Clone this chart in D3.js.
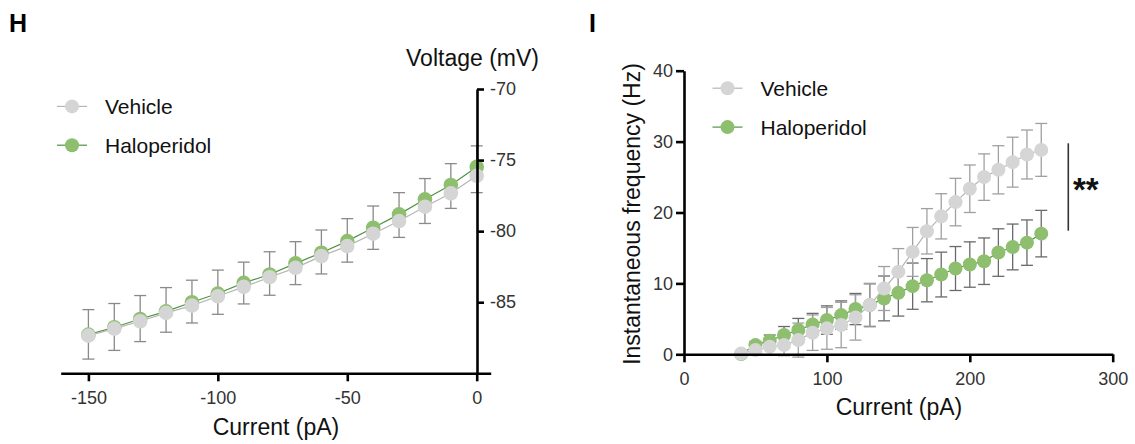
<!DOCTYPE html>
<html>
<head>
<meta charset="utf-8">
<script src="https://cdn.jsdelivr.net/npm/d3@7"></script>
<style>
  body { margin: 0; background: #fff; }
  text { font-family: "Liberation Sans", Arial, sans-serif; }
</style>
</head>
<body>
<script>
// panel H data: voltage vs injected (negative) current
const currentH = [-150, -140, -130, -120, -110, -100, -90, -80, -70, -60, -50, -40, -30, -20, -10, 0];
const vehicleH = [-87.35, -86.86, -86.34, -85.75, -85.24, -84.58, -83.92, -83.24, -82.58, -81.76, -81.05, -80.18, -79.29, -78.28, -77.34, -76.11];
const vehicleHsem = [1.65, 1.53, 1.43, 1.36, 1.22, 1.27, 1.2, 1.27, 1.18, 1.25, 1.13, 1.1, 1.15, 1.18, 1.06, 1.18];
const haloH = [-87.28, -86.76, -86.18, -85.64, -85.0, -84.39, -83.64, -83.05, -82.27, -81.52, -80.7, -79.76, -78.82, -77.76, -76.75, -75.48];
const haloHsem = [1.76, 1.67, 1.65, 1.67, 1.55, 1.65, 1.46, 1.6, 1.53, 1.6, 1.58, 1.53, 1.53, 1.46, 1.5, 1.48];
const xTicksH = [-150, -100, -50, 0];
const yTicksH = [-70, -75, -80, -85];

// panel I data: instantaneous frequency vs current
const currentI = [40, 50, 60, 70, 80, 90, 100, 110, 120, 130, 140, 150, 160, 170, 180, 190, 200, 210, 220, 230, 240, 250];
const vehicleI = [0.1, 0.6, 1.08, 1.3, 2.0, 3.05, 3.66, 4.13, 5.2, 6.94, 9.28, 11.63, 14.44, 17.35, 19.46, 21.47, 23.35, 24.99, 26.02, 27.1, 28.18, 28.83];
const vehicleIsem = [0.1, 0.5, 1.2, 1.5, 2.4, 2.5, 2.95, 3.2, 3.2, 3.07, 3.1, 3.28, 3.45, 3.2, 3.19, 3.35, 3.35, 3.28, 3.4, 3.52, 3.45, 3.73];
const haloI = [0.05, 1.3, 1.92, 2.72, 3.42, 4.22, 4.83, 5.53, 6.38, 6.94, 7.88, 8.67, 9.61, 10.45, 11.25, 12.1, 12.66, 13.13, 14.35, 15.14, 15.75, 17.02];
const haloIsem = [0.1, 0.5, 0.8, 1.2, 1.64, 1.55, 2.0, 2.0, 2.2, 3.0, 3.16, 3.28, 3.26, 3.05, 3.16, 3.1, 3.2, 3.28, 3.35, 3.23, 3.2, 3.28];
const xTicksI = [0, 100, 200, 300];
const yTicksI = [0, 10, 20, 30, 40];

const series = ["Vehicle", "Haloperidol"];
const fillCol = { Vehicle: "#d5d5d5", Haloperidol: "#8dbf6f" };
const lineCol = { Vehicle: "#b5b5b5", Haloperidol: "#4e9444" };

const svg = d3.select("body").append("svg")
  .attr("width", 1135)
  .attr("height", 444);

function styleAxis(g, fs) {
  g.select(".domain").attr("stroke", "#000").attr("stroke-width", 2.6);
  g.selectAll(".tick line").attr("stroke", "#000").attr("stroke-width", 2.6);
  g.selectAll(".tick text").attr("font-size", fs).attr("fill", "#333")
    .attr("font-family", "'Liberation Sans', Arial, sans-serif");
}

function errBars(g, xs, ys, sems, x, y, dir, col) {
  const cap = 6;
  xs.forEach((d, i) => {
    const cx = x(d);
    const top = dir === "down" ? y(ys[i]) : y(ys[i] + sems[i]);
    const bot = dir === "up" ? y(ys[i]) : y(ys[i] - sems[i]);
    g.append("line").attr("x1", cx).attr("x2", cx).attr("y1", top).attr("y2", bot)
      .attr("stroke", col).attr("stroke-width", 1.3);
    if (dir !== "down")
      g.append("line").attr("x1", cx - cap).attr("x2", cx + cap).attr("y1", top).attr("y2", top)
        .attr("stroke", col).attr("stroke-width", 1.3);
    if (dir !== "up")
      g.append("line").attr("x1", cx - cap).attr("x2", cx + cap).attr("y1", bot).attr("y2", bot)
        .attr("stroke", col).attr("stroke-width", 1.3);
  });
}

function drawSeries(g, xs, ys, x, y, name, r) {
  const line = d3.line().x(d => x(d[0])).y(d => y(d[1]));
  g.append("path").datum(xs.map((d, i) => [d, ys[i]]))
    .attr("d", line).attr("fill", "none")
    .attr("stroke", lineCol[name]).attr("stroke-width", 1.2);
  g.selectAll(null).data(xs.map((d, i) => [d, ys[i]])).enter()
    .append("circle")
      .attr("cx", d => x(d[0]))
      .attr("cy", d => y(d[1]))
      .attr("r", r)
      .attr("fill", fillCol[name]);
}

function legend(g, lx, ly, gap) {
  series.forEach((s, i) => {
    const yy = ly + i * gap;
    g.append("line").attr("x1", lx - 15).attr("x2", lx + 15).attr("y1", yy).attr("y2", yy)
      .attr("stroke", lineCol[s]).attr("stroke-width", 1.2);
    g.append("circle").attr("cx", lx).attr("cy", yy).attr("r", 7).attr("fill", fillCol[s]);
    g.append("text").attr("x", lx + 33).attr("y", yy).attr("dy", "0.36em")
      .attr("font-size", 21).attr("fill", "#111").text(s);
  });
}

// ---------- panel H ----------
const xH = d3.scaleLinear().domain([-160.7, 5.4]).range([60.7, 490.7]);
const yH = d3.scaleLinear().domain([-90, -70]).range([373.3, 89]);
const gH = svg.append("g");

gH.append("text").attr("x", 9).attr("y", 32).attr("font-size", 25)
  .attr("font-weight", "bold").text("H");

errBars(gH, currentH, haloH, haloHsem, xH, yH, "up", "#8a8a8a");
errBars(gH, currentH, vehicleH, vehicleHsem, xH, yH, "down", "#8a8a8a");
drawSeries(gH, currentH, haloH, xH, yH, "Haloperidol", 7.3);
drawSeries(gH, currentH, vehicleH, xH, yH, "Vehicle", 7.3);

gH.append("g").attr("transform", "translate(0,373.3)")
  .call(d3.axisBottom(xH).tickValues(xTicksH).tickSize(8).tickSizeOuter(0).tickPadding(10)
    .tickFormat(d => String(d)))
  .call(g => styleAxis(g, 18));
gH.append("g").attr("transform", "translate(477,0)")
  .call(d3.axisRight(yH).tickValues(yTicksH).tickSize(7).tickSizeOuter(0).tickPadding(6)
    .tickFormat(d => String(d)))
  .call(g => styleAxis(g, 18));

gH.append("text").attr("x", 539).attr("y", 66).attr("text-anchor", "end")
  .attr("font-size", 23).attr("fill", "#111").text("Voltage (mV)");
gH.append("text").attr("x", 276).attr("y", 427).attr("dy", "0.36em").attr("text-anchor", "middle")
  .attr("font-size", 23).attr("fill", "#111").text("Current (pA)");

legend(gH, 72, 106.4, 38.8);

// ---------- panel I ----------
const xI = d3.scaleLinear().domain([0, 300]).range([684, 1112.7]);
const yI = d3.scaleLinear().domain([0, 40]).range([354.3, 70.7]);
const gI = svg.append("g");

gI.append("text").attr("x", 589).attr("y", 32).attr("font-size", 25)
  .attr("font-weight", "bold").text("I");

errBars(gI, currentI, haloI, haloIsem, xI, yI, "both", "#6a6a6a");
errBars(gI, currentI, vehicleI, vehicleIsem, xI, yI, "both", "#a0a0a0");
drawSeries(gI, currentI, haloI, xI, yI, "Haloperidol", 7);
drawSeries(gI, currentI, vehicleI, xI, yI, "Vehicle", 7);

gI.append("g").attr("transform", "translate(0,354.3)")
  .call(d3.axisBottom(xI).tickValues(xTicksI).tickSize(8).tickSizeOuter(0).tickPadding(10))
  .call(g => styleAxis(g, 18));
gI.append("g").attr("transform", "translate(684,0)")
  .call(d3.axisLeft(yI).tickValues(yTicksI).tickSize(8).tickSizeOuter(0).tickPadding(3))
  .call(g => styleAxis(g, 18));

gI.append("text")
  .attr("transform", "translate(632,214) rotate(-90)")
  .attr("dy", "0.36em").attr("text-anchor", "middle")
  .attr("font-size", 23).attr("fill", "#111").text("Instantaneous frequency (Hz)");
gI.append("text").attr("x", 899).attr("y", 407).attr("dy", "0.36em").attr("text-anchor", "middle")
  .attr("font-size", 23).attr("fill", "#111").text("Current (pA)");

legend(gI, 727.5, 88.2, 38.9);

// significance bar
gI.append("line").attr("x1", 1068.3).attr("x2", 1068.3).attr("y1", 143.3).attr("y2", 230.7)
  .attr("stroke", "#333").attr("stroke-width", 1.6);
gI.append("text").attr("x", 1073).attr("y", 201).attr("font-size", 33)
  .attr("font-weight", "bold").attr("fill", "#111").text("**");
</script>
</body>
</html>
